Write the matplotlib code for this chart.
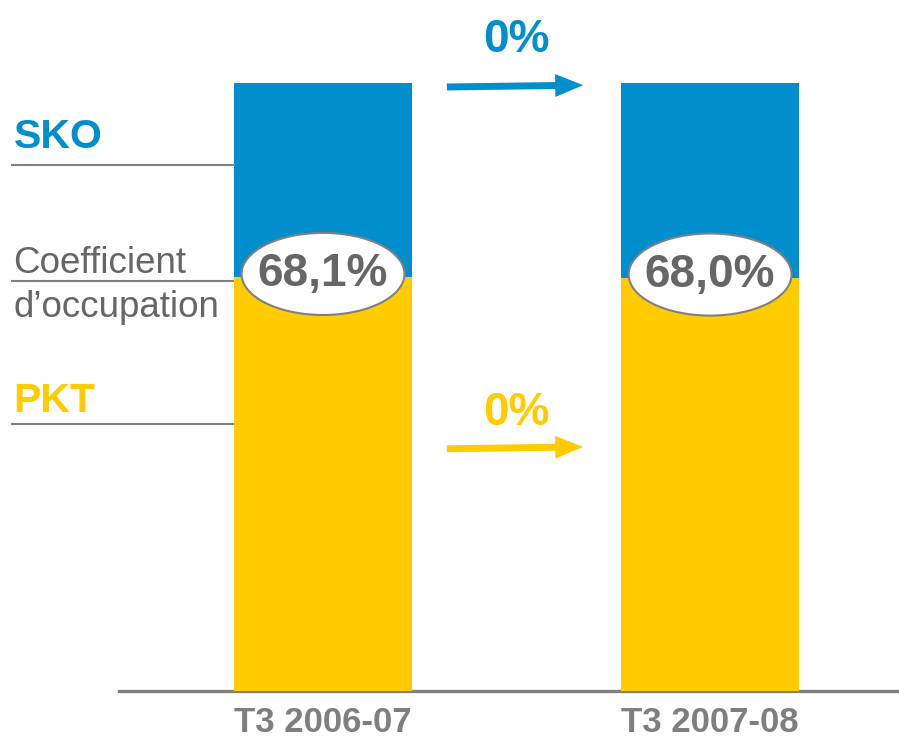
import matplotlib.pyplot as plt
from matplotlib.patches import Ellipse

# data
periods = ["T3 2006-07", "T3 2007-08"]
sko = [100, 100]            # capacity (siège-km offerts), base 100
pkt = [68.1, 68.0]          # coefficient d'occupation -> part PKT
pct_labels = ["68,1%", "68,0%"]
sko_change = "0%"
pkt_change = "0%"

blue = "#008fcc"
yellow = "#ffcc00"
grey_txt = "#666666"
grey_line = "#808080"
font = "Liberation Sans"

fig = plt.figure(figsize=(8.99, 7.44), dpi=100)
ax = fig.add_axes([0.1324, 0.0712, 0.8676, 0.8172])

x = list(range(len(periods)))
w = 0.46
ax.bar(x, sko, width=w, color=blue, zorder=2)
ax.bar(x, pkt, width=w, color=yellow, zorder=3)

ax.set_xlim(-0.527, 1.488)
ax.set_ylim(0, 100)

for s in ["top", "right", "left"]:
    ax.spines[s].set_visible(False)
ax.spines["bottom"].set_color(grey_line)
ax.spines["bottom"].set_linewidth(2.4)
ax.set_yticks([])
ax.set_xticks(x)
ax.set_xticklabels(periods, fontsize=25, fontweight="bold", color="#7f7f7f", family=font)
ax.tick_params(axis="x", length=0, pad=11)

# ellipses with load factor
for i, v in enumerate(pkt):
    ax.add_patch(Ellipse((i, v + 0.5), 0.421, 13.5, facecolor="white",
                         edgecolor="#808080", lw=1.5, zorder=4))
    ax.text(i, v + 0.5, pct_labels[i], ha="center", va="center", fontsize=33,
            fontweight="bold", color=grey_txt, family=font, zorder=5)

# arrows between bars
for yv, col, lab, ly in [(99.5, blue, sko_change, 107.1), (40.0, yellow, pkt_change, 45.8)]:
    ax.annotate("", xy=(0.672, yv + 0.15), xytext=(0.32, yv - 0.15),
                arrowprops=dict(arrowstyle="-|>,head_length=1.1,head_width=0.45",
                                color=col, lw=5, shrinkA=0, shrinkB=0,
                                capstyle="butt", joinstyle="miter"),
                annotation_clip=False)
    ax.text(0.499, ly, lab, ha="center", va="center", fontsize=33,
            fontweight="bold", color=col, family=font, clip_on=False)

# left side labels with guide lines
lx0, lx1 = -0.804, -w / 2
ax.plot([lx0, lx1], [86.5, 86.5], color=grey_line, lw=1.5, clip_on=False)
ax.plot([lx0, lx1], [67.5, 67.5], color=grey_line, lw=1.5, clip_on=False)
ax.plot([lx0, lx1], [43.9, 43.9], color=grey_line, lw=1.5, clip_on=False)
ax.text(-0.80, 89.3, "SKO", fontsize=29.5, fontweight="bold", color=blue,
        family=font, va="baseline", clip_on=False)
ax.text(-0.80, 68.75, "Coefficient", fontsize=26.5, color=grey_txt,
        family=font, va="baseline", clip_on=False)
ax.text(-0.80, 61.5, "d\u2019occupation", fontsize=26.5, color=grey_txt,
        family=font, va="baseline", clip_on=False)
ax.text(-0.80, 45.9, "PKT", fontsize=29.5, fontweight="bold", color=yellow,
        family=font, va="baseline", clip_on=False)

fig.savefig("out.png", dpi=100)
